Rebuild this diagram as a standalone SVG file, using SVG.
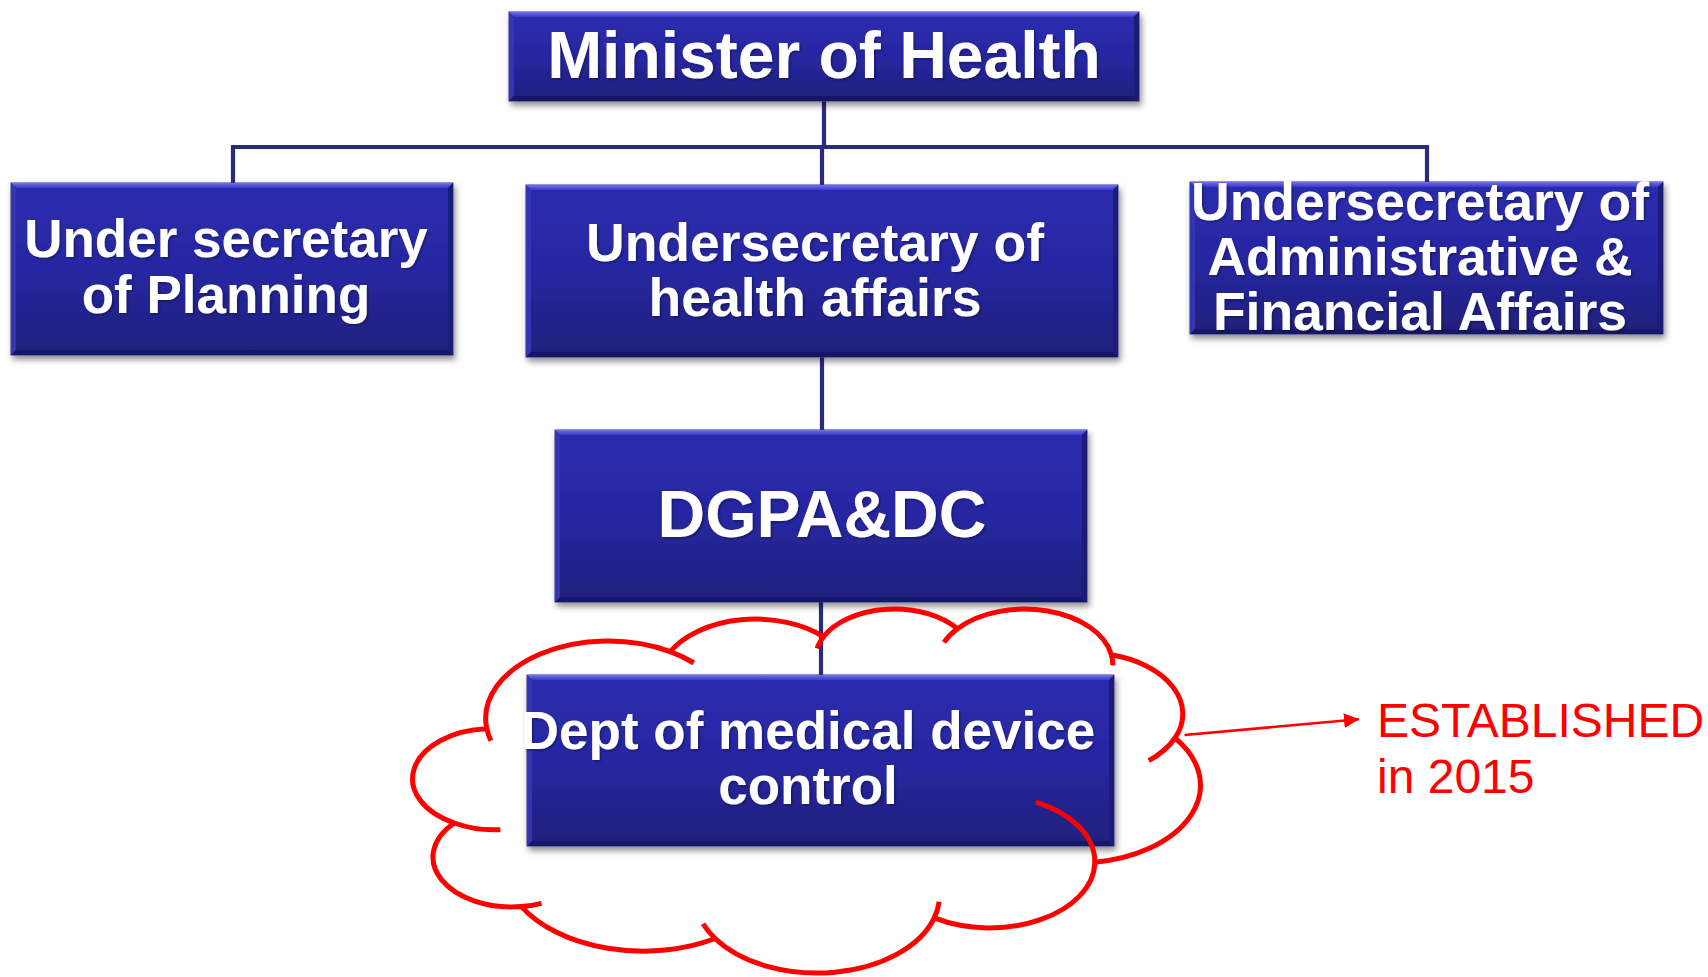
<svg xmlns="http://www.w3.org/2000/svg" width="1708" height="977" viewBox="0 0 1708 977">
  <defs>
    <linearGradient id="boxFill" x1="0" y1="0" x2="0" y2="1">
      <stop offset="0" stop-color="#2c2cb0"/>
      <stop offset="0.5" stop-color="#2727a2"/>
      <stop offset="1" stop-color="#1f1f7c"/>
    </linearGradient>
    <linearGradient id="bevelTop" x1="0" y1="0" x2="0" y2="1">
      <stop offset="0" stop-color="#7070f4"/>
      <stop offset="1" stop-color="#3a3ac2"/>
    </linearGradient>
    <filter id="shadow" x="-5%" y="-10%" width="112%" height="130%">
      <feDropShadow dx="2" dy="4" stdDeviation="3" flood-color="#000" flood-opacity="0.45"/>
    </filter>
    <filter id="textShadow" x="-5%" y="-20%" width="110%" height="150%">
      <feDropShadow dx="1.5" dy="1.5" stdDeviation="1" flood-color="#000" flood-opacity="0.35"/>
    </filter>
    <marker id="arrowHead" markerUnits="userSpaceOnUse" markerWidth="16" markerHeight="16" refX="15" refY="7.5" orient="auto">
      <path d="M0 0 L15 7.5 L0 15 Z" fill="#ff0000"/>
    </marker>
    <style>
      .box { fill: url(#boxFill); stroke: #3a3a8c; stroke-width: 1; }
      .bev-top { fill: url(#bevelTop); }
      .bev-left { fill: #3434b4; }
      .bev-right { fill: #1c1c78; }
      .bev-bottom { fill: #18186a; }
      .frame { filter: url(#shadow); }
      .label { font-family: "Liberation Sans", Arial, sans-serif; font-weight: bold; fill: #ffffff; text-anchor: middle; filter: url(#textShadow); }
      .conn { fill: none; stroke: #2b2b7d; stroke-width: 4.2; }
      .cloud { fill: none; stroke: #ff0000; stroke-width: 5; stroke-linejoin: round; }
      .note { font-family: "Liberation Sans", Arial, sans-serif; font-size: 48px; fill: #ff0000; }
    </style>
  </defs>

  <rect width="1708" height="977" fill="#ffffff"/>

  <!-- connectors -->
  <g id="connectors">
    <path class="conn" d="M824 101 V147"/>
    <path class="conn" d="M233 183 V147 H1427 V183"/>
    <path class="conn" d="M822 147 V185"/>
    <path class="conn" d="M822 357 V430"/>
    <path class="conn" d="M821 602 V675"/>
  </g>

  <!-- Minister of Health -->
  <g id="node-minister">
    <g class="frame">
      <rect class="box" x="509" y="12" width="630" height="89"/>
      <polygon class="bev-top" points="509,12 1139,12 1134,17 514,17"/>
      <polygon class="bev-left" points="509,12 514,17 514,96 509,101"/>
      <polygon class="bev-right" points="1139,12 1139,101 1134,96 1134,17"/>
      <polygon class="bev-bottom" points="509,101 514,96 1134,96 1139,101"/>
    </g>
    <text class="label" x="824" y="77.5" font-size="66">Minister of Health</text>
  </g>

  <!-- Under secretary of Planning -->
  <g id="node-planning">
    <g class="frame">
      <rect class="box" x="11" y="183" width="442" height="172"/>
      <polygon class="bev-top" points="11,183 453,183 448,188 16,188"/>
      <polygon class="bev-left" points="11,183 16,188 16,350 11,355"/>
      <polygon class="bev-right" points="453,183 453,355 448,350 448,188"/>
      <polygon class="bev-bottom" points="11,355 16,350 448,350 453,355"/>
    </g>
    <text class="label" x="226" y="257" font-size="53">Under secretary</text>
    <text class="label" x="226" y="313" font-size="53">of Planning</text>
  </g>

  <!-- Undersecretary of health affairs -->
  <g id="node-health-affairs">
    <g class="frame">
      <rect class="box" x="526" y="185" width="592" height="172"/>
      <polygon class="bev-top" points="526,185 1118,185 1113,190 531,190"/>
      <polygon class="bev-left" points="526,185 531,190 531,352 526,357"/>
      <polygon class="bev-right" points="1118,185 1118,357 1113,352 1113,190"/>
      <polygon class="bev-bottom" points="526,357 531,352 1113,352 1118,357"/>
    </g>
    <text class="label" x="815" y="260.5" font-size="53.5">Undersecretary of</text>
    <text class="label" x="815" y="315.5" font-size="53.5">health affairs</text>
  </g>

  <!-- Undersecretary of Administrative & Financial Affairs -->
  <g id="node-admin-finance">
    <g class="frame">
      <rect class="box" x="1190" y="182" width="473" height="152"/>
      <polygon class="bev-top" points="1190,182 1663,182 1658,187 1195,187"/>
      <polygon class="bev-left" points="1190,182 1195,187 1195,329 1190,334"/>
      <polygon class="bev-right" points="1663,182 1663,334 1658,329 1658,187"/>
      <polygon class="bev-bottom" points="1190,334 1195,329 1658,329 1663,334"/>
    </g>
    <text class="label" x="1420" y="220" font-size="53.5">Undersecretary of</text>
    <text class="label" x="1420" y="275" font-size="53.5">Administrative &amp;</text>
    <text class="label" x="1420" y="330" font-size="53.5">Financial Affairs</text>
  </g>

  <!-- DGPA&DC -->
  <g id="node-dgpadc">
    <g class="frame">
      <rect class="box" x="555" y="430" width="532" height="172"/>
      <polygon class="bev-top" points="555,430 1087,430 1082,435 560,435"/>
      <polygon class="bev-left" points="555,430 560,435 560,597 555,602"/>
      <polygon class="bev-right" points="1087,430 1087,602 1082,597 1082,435"/>
      <polygon class="bev-bottom" points="555,602 560,597 1082,597 1087,602"/>
    </g>
    <text class="label" x="822" y="537" font-size="66">DGPA&amp;DC</text>
  </g>

  <!-- Dept of medical device control -->
  <g id="node-device-control">
    <g class="frame">
      <rect class="box" x="527" y="675" width="587" height="171"/>
      <polygon class="bev-top" points="527,675 1114,675 1109,680 532,680"/>
      <polygon class="bev-left" points="527,675 532,680 532,841 527,846"/>
      <polygon class="bev-right" points="1114,675 1114,846 1109,841 1109,680"/>
      <polygon class="bev-bottom" points="527,846 532,841 1109,841 1114,846"/>
    </g>
    <text class="label" x="808" y="748.5" font-size="53">Dept of medical device</text>
    <text class="label" x="808" y="803.5" font-size="53">control</text>
  </g>

  <!-- cloud highlight around the new department -->
  <g id="cloud">
    <path class="cloud" d="M486.8 728.8
      A122.55 77.40 0 0 1 670.2 651.6
      A96.78 61.20 0 0 1 823.5 636.7
      A79.22 50.07 0 0 1 957.4 628.7
      A88.14 55.54 0 0 1 1111.4 654.8
      A96.78 61.25 0 0 1 1175.0 738.0
      A122.95 77.65 0 0 1 1094.8 862.2
      A104.99 66.26 0 0 1 934.3 917.9
      A122.53 77.61 0 0 1 715.1 938.5
      A140.10 88.79 0 0 1 521.4 906.6
      A79.13 49.84 0 0 1 454.4 823.0
      A78.85 50.07 0 0 1 486.8 728.8 Z"/>
    <path class="cloud" d="M500.4 829.7 A78.85 50.07 0 0 1 454.4 823.0
      M541.5 903.3 A79.13 49.84 0 0 1 521.4 906.6
      M715.1 938.5 A122.53 77.61 0 0 1 703.0 923.8
      M939.1 901.8 A122.53 77.61 0 0 1 934.3 917.9
      M1035.9 802.1 A104.99 66.26 0 0 1 1094.8 862.2
      M1175.0 738.0 A96.78 61.25 0 0 1 1148.7 760.6
      M1111.4 654.8 A88.14 55.54 0 0 1 1112.8 665.4
      M944.0 642.3 A88.14 55.54 0 0 1 957.4 628.7
      M817.0 648.4 A79.22 50.07 0 0 1 823.5 636.7
      M670.2 651.6 A122.55 77.40 0 0 1 693.8 663.0
      M490.9 740.8 A122.55 77.40 0 0 1 486.8 728.8"/>
  </g>

  <!-- note pointing at the cloud -->
  <g id="note-established">
    <line x1="1184.5" y1="735" x2="1359" y2="719.3" stroke="#ff0000" stroke-width="2.5" marker-end="url(#arrowHead)"/>
    <text class="note" x="1377" y="736.7">ESTABLISHED</text>
    <text class="note" x="1377" y="793.3">in 2015</text>
  </g>
</svg>
